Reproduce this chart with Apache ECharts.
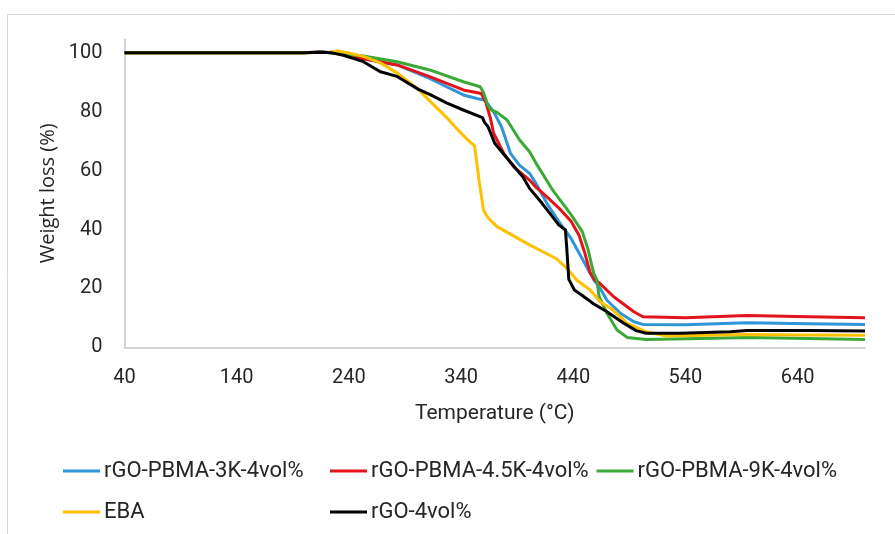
<!DOCTYPE html>
<html>
<head>
<meta charset="utf-8">
<script src="https://cdn.jsdelivr.net/npm/echarts@6/dist/echarts.min.js"></script>
<style>
html,body{margin:0;padding:0;background:#fff;}
#chart{width:895px;height:534px;}
</style>
</head>
<body>
<div id="chart"></div>
<script>
// Tick labels
const xTickLabels = [40, 140, 240, 340, 440, 540, 640];
const yTickLabels = [0, 20, 40, 60, 80, 100];
const seriesNames = ['rGO-PBMA-3K-4vol%', 'rGO-PBMA-4.5K-4vol%', 'rGO-PBMA-9K-4vol%', 'EBA', 'rGO-4vol%'];

// rGO-PBMA-3K-4vol%
const tBlue = [40, 100, 160, 200, 215, 224, 235, 253, 283, 312, 342, 355, 361, 369, 376, 384, 392, 401, 407, 417, 427, 438, 448, 458, 464, 470, 482, 494, 502, 540, 595, 650, 700];
const wBlue = [100, 100, 100, 100, 100.4, 100, 99.5, 98, 95.9, 91.3, 85.7, 84.4, 84, 80, 74.9, 65.9, 61.9, 59.1, 55.5, 48.6, 42.8, 37, 30.1, 23.1, 20, 16, 11.6, 8.7, 7.8, 7.7, 8.4, 8.0, 7.8];

// rGO-PBMA-4.5K-4vol%
const tRed = [40, 100, 160, 200, 215, 224, 235, 253, 283, 312, 342, 358, 362, 366, 369, 378, 387, 401, 407, 417, 427, 438, 445, 450, 455, 459, 463, 476, 494, 502, 540, 595, 650, 700];
const wRed = [100, 100, 100, 100, 100.3, 100, 99.4, 98, 95.9, 91.9, 87.4, 86.2, 83.2, 78, 72.7, 65.9, 61.3, 56.8, 54.3, 50.9, 47.4, 42.8, 38.2, 32.4, 25.4, 22.9, 22, 17.2, 12.1, 10.4, 10.1, 10.8, 10.4, 10.1];

// rGO-PBMA-9K-4vol%
const tGreen = [40, 100, 160, 200, 215, 224, 235, 253, 283, 312, 342, 357, 360, 364, 367, 372, 381, 392, 401, 407, 422, 438, 448, 453, 458, 461, 463, 470, 479, 488, 505, 565, 595, 650, 700];
const wGreen = [100, 100, 100, 100, 100.2, 100, 99.7, 98.9, 97, 94.2, 90.2, 88.5, 86.5, 82, 80.6, 79.8, 77.2, 70.5, 66.4, 62.4, 53.2, 45.1, 39.3, 33.5, 25.4, 22.9, 17.3, 11.6, 5.9, 3.4, 2.7, 3.1, 3.4, 3.0, 2.7];

// EBA
const tYellow = [40, 100, 160, 200, 222, 230, 238, 253, 268, 283, 302, 312, 327, 338, 345, 352, 356, 360, 364, 372, 393, 401, 425, 435, 443, 455, 464, 476, 488, 505, 523, 595, 650, 700];
const wYellow = [100, 100, 100, 100, 100.2, 100.6, 100.1, 98.8, 96.6, 93.2, 87.6, 83.7, 78.1, 73.5, 70.8, 68.4, 56.8, 46.6, 44, 41, 36.5, 34.8, 30.1, 26.6, 22.9, 19.5, 15.5, 12.5, 8.2, 5.3, 3.9, 4.4, 4.2, 4.1];

// rGO-4vol%
const tBlack = [40, 100, 160, 200, 215, 225, 235, 253, 268, 283, 302, 312, 327, 342, 359, 361, 364, 370, 381, 395, 401, 412, 420, 427, 433, 434, 436, 441, 448, 458, 470, 485, 496, 505, 535, 580, 595, 650, 700];
const wBlack = [100, 100, 100, 100, 100.2, 100, 99.2, 97, 93.6, 92, 87.6, 85.9, 83, 80.6, 78, 76.3, 74.9, 69.3, 64.2, 57.9, 54, 49, 45.1, 41.6, 39.9, 34.7, 23.1, 19.5, 17.6, 14.8, 12.1, 8.2, 5.7, 4.8, 4.8, 5.3, 5.7, 5.7, 5.6];

const colors = ['#2E96D8', '#E3131B', '#3AA935', '#FFC000', '#000000'];
const X0 = xTickLabels[0]; // axis origin (first tick label)

function pairs(t, w) { return t.map((v, i) => [v - X0, w[i]]); }
const seriesData = [pairs(tBlue, wBlue), pairs(tRed, wRed), pairs(tGreen, wGreen), pairs(tYellow, wYellow), pairs(tBlack, wBlack)];

const labelFont = 'Roboto';
const txtColor = '#262626';

const legendPos = [
  {left: 63, top: 460},
  {left: 330, top: 460},
  {left: 596.5, top: 460},
  {left: 63, top: 501},
  {left: 330, top: 501}
];

const chart = echarts.init(document.getElementById('chart'), null, {renderer: 'canvas'});
chart.setOption({
  animation: false,
  backgroundColor: '#ffffff',
  graphic: [{
    type: 'rect',
    shape: {x: 7.5, y: 14.5, width: 1000, height: 1000},
    style: {fill: 'none', stroke: '#d9d9d9', lineWidth: 1},
    silent: true
  }],
  grid: {left: 124.5, right: 30, top: 39.3, bottom: 186.6, containLabel: false},
  legend: seriesNames.map((n, i) => ({
    data: [n],
    left: legendPos[i].left,
    top: legendPos[i].top,
    padding: 0,
    icon: 'rect',
    itemWidth: 37,
    itemHeight: 3,
    itemGap: 0,
    textStyle: {fontFamily: labelFont, fontSize: 22, color: txtColor, padding: [0, 0, 0, -1]}
  })),
  xAxis: {
    type: 'value',
    min: 0,
    max: 700 - X0,
    interval: xTickLabels[1] - xTickLabels[0],
    name: 'Temperature (°C)',
    nameLocation: 'middle',
    nameGap: 56,
    nameTextStyle: {fontFamily: labelFont, fontSize: 21, color: txtColor},
    axisLine: {show: true, lineStyle: {color: '#c6c6c6', width: 1.5}},
    axisTick: {show: false},
    splitLine: {show: false},
    axisLabel: {
      fontFamily: labelFont, fontSize: 20, color: txtColor, margin: 21,
      showMaxLabel: false,
      formatter: v => String(v + X0)
    }
  },
  yAxis: {
    type: 'value',
    min: 0,
    max: 104.6,
    interval: 20,
    name: 'Weight loss (%)',
    nameLocation: 'middle',
    nameGap: 66,
    nameTextStyle: {fontFamily: 'Open Sans', fontSize: 20, color: txtColor},
    axisLine: {show: true, lineStyle: {color: '#c6c6c6', width: 1.5}},
    axisTick: {show: false},
    splitLine: {show: false},
    axisLabel: {
      fontFamily: labelFont, fontSize: 20, color: txtColor, margin: 22,
      showMaxLabel: false,
      formatter: v => (yTickLabels.indexOf(v) >= 0 ? String(v) : '')
    }
  },
  series: seriesNames.map((n, i) => ({
    name: n,
    type: 'line',
    data: seriesData[i],
    showSymbol: false,
    symbol: 'none',
    smooth: false,
    color: colors[i],
    itemStyle: {color: colors[i]},
    lineStyle: {color: colors[i], width: 3, join: 'round'},
    z: 2 + i
  }))
});
</script>
</body>
</html>
